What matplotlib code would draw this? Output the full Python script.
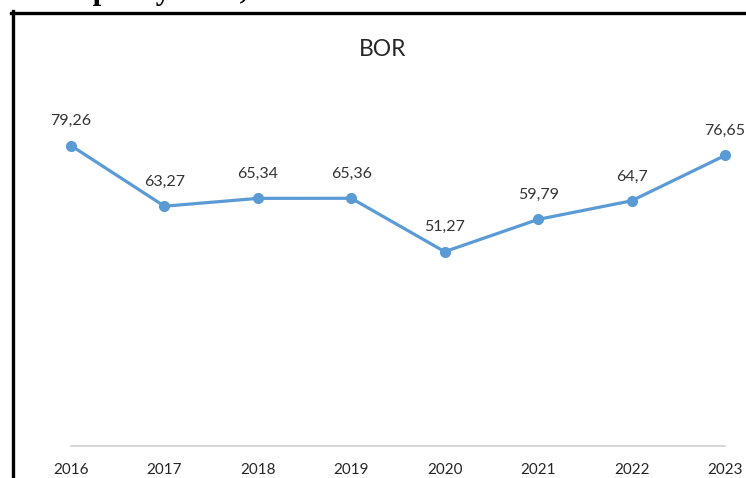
import matplotlib.pyplot as plt
from matplotlib.lines import Line2D

# data
years = ['2016', '2017', '2018', '2019', '2020', '2021', '2022', '2023']
bor = [79.26, 63.27, 65.34, 65.36, 51.27, 59.79, 64.7, 76.65]
labels = ['79,26', '63,27', '65,34', '65,36', '51,27', '59,79', '64,7', '76,65']

W, H = 746, 478
fig = plt.figure(figsize=(W / 100, H / 100), dpi=100)

# plot area
ax = fig.add_axes([71 / W, 1 - 446 / H, (725 - 71) / W, (446 - 67) / H])
x = list(range(len(years)))
ax.plot(x, bor, color='#5B9BD5', lw=2.3, marker='o', ms=7, zorder=3, clip_on=False)
for xi, v, lab in zip(x, bor, labels):
    ax.annotate(lab, (xi, v), xytext=(0, 12.5), textcoords='offset points',
                ha='center', va='bottom', fontsize=11.5, family='Lato', color='#333333')

ax.set_xlim(0, len(years) - 1)
ax.set_ylim(0, 100)
ax.set_xticks(x)
ax.set_xticklabels(years, fontsize=11, family='Lato', color='#262626')
ax.set_yticks([])
ax.tick_params(axis='x', length=0, pad=12)
for s in ['top', 'right', 'left']:
    ax.spines[s].set_visible(False)
ax.spines['bottom'].set_color('#d0d0d0')
ax.spines['bottom'].set_linewidth(1.2)
ax.patch.set_alpha(0)

fig.text(383 / W, 1 - 49 / H, 'BOR', ha='center', va='center',
         fontsize=16.5, family='Lato', color='#262626')

# cut-off heading above the chart box (only descenders show)
fig.text(25 / W, 1 + 1.5 / H, 'Occupancy Rate,', ha='left', va='baseline',
         fontsize=22, family='Liberation Serif', fontweight='bold', color='black')

# black frame of the pasted chart
fig.add_artist(Line2D([12.5 / W, 12.5 / W], [0, 1 - 11 / H], transform=fig.transFigure,
                      color='black', lw=2.4))
fig.add_artist(Line2D([11 / W, 1], [1 - 12.5 / H, 1 - 12.5 / H], transform=fig.transFigure,
                      color='black', lw=2.4))

fig.savefig('out.png', dpi=100)
